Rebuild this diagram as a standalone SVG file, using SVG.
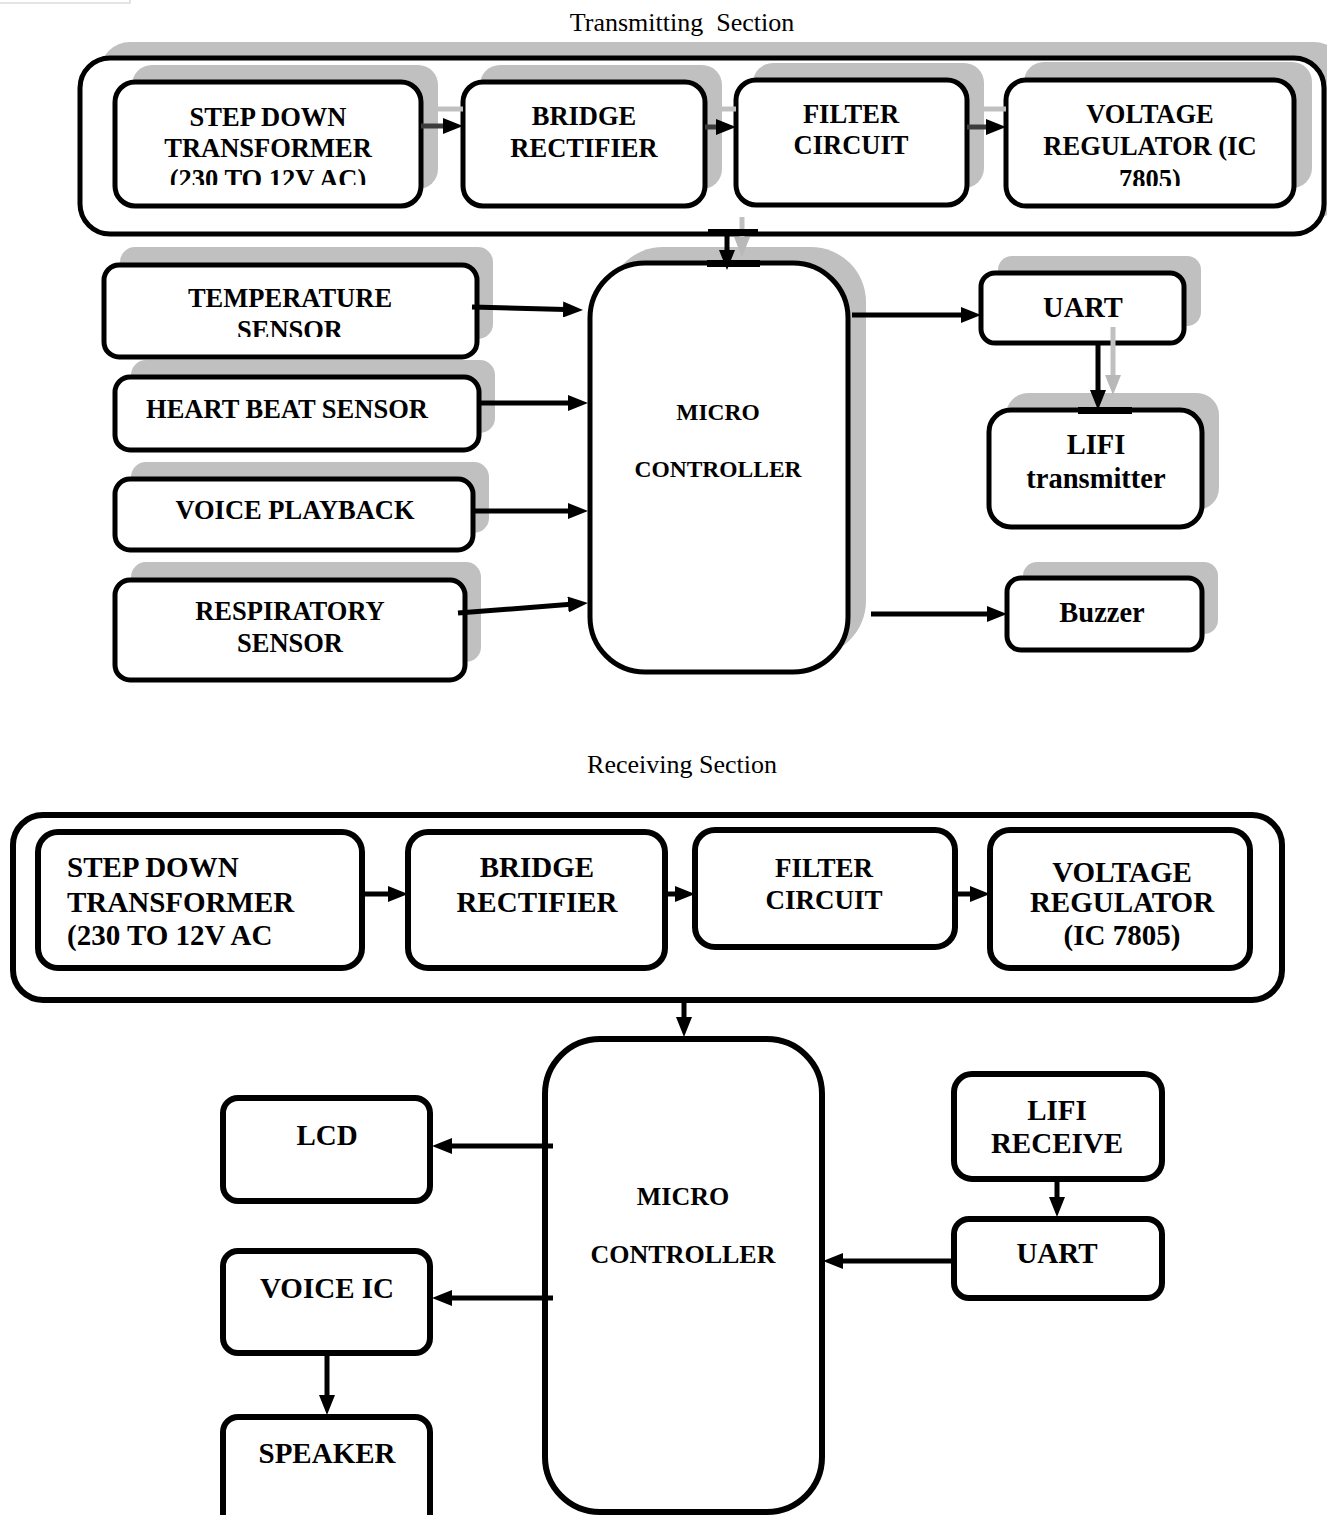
<svg xmlns="http://www.w3.org/2000/svg" width="1327" height="1515" viewBox="0 0 1327 1515">
<style>
.bx{fill:#fff;stroke:#000;stroke-width:5}
.bx2{fill:#fff;stroke:#000;stroke-width:6}
.sh{fill:#c0c0c0}
.t{font-family:"Liberation Serif","Times New Roman",serif;font-weight:bold;text-anchor:middle;fill:#000;font-size:26.5px}
.tb{font-family:"Liberation Serif","Times New Roman",serif;font-weight:bold;text-anchor:middle;fill:#000;font-size:29px}
.cap{font-family:"Liberation Serif","Times New Roman",serif;text-anchor:middle;fill:#000;font-size:26px;white-space:pre}
.ln{stroke:#000;stroke-width:5;fill:none}
.dk{stroke:#3c3c3c;stroke-width:5;fill:none}
.gl{stroke:#c0c0c0;stroke-width:5;fill:none}
</style>
<defs>
<marker id="ah" viewBox="0 0 20 16" markerWidth="20" markerHeight="16" refX="12" refY="8" orient="auto" markerUnits="userSpaceOnUse"><path d="M0,0 L20,8 L0,16 z" fill="#000"/></marker>
<marker id="ag" viewBox="0 0 20 16" markerWidth="20" markerHeight="16" refX="12" refY="8" orient="auto" markerUnits="userSpaceOnUse"><path d="M0,0 L20,8 L0,16 z" fill="#b8b8b8"/></marker>
<clipPath id="c1"><rect x="0" y="0" width="1327" height="185"/></clipPath>
<clipPath id="c2"><rect x="0" y="0" width="1327" height="186"/></clipPath>
<clipPath id="c3"><rect x="0" y="0" width="1327" height="337"/></clipPath>
</defs>
<rect width="1327" height="1515" fill="#fff"/>
<path d="M0,3 H130 V0" fill="none" stroke="#dcdcdc" stroke-width="1.5"/>

<text class="cap" x="682" y="31" xml:space="preserve">Transmitting  Section</text>

<g id="tx-power">
<rect class="sh" x="100" y="42" width="1244" height="176" rx="30"/>
<rect class="bx" x="80" y="58" width="1244" height="176" rx="30"/>
</g>
<g id="tx-stepdown">
<rect class="sh" x="132" y="65" width="306" height="124" rx="20"/>
<rect class="bx" x="115" y="82" width="306" height="124" rx="20"/>
<g clip-path="url(#c1)"><text class="t" x="268" y="126">STEP DOWN</text><text class="t" x="268" y="157">TRANSFORMER</text><text class="t" x="268" y="188">(230 TO 12V AC)</text></g>
</g>
<g id="tx-bridge">
<rect class="sh" x="480" y="65" width="242" height="124" rx="20"/>
<rect class="bx" x="463" y="82" width="242" height="124" rx="20"/>
<text class="t" x="584" y="125">BRIDGE</text><text class="t" x="584" y="157">RECTIFIER</text>
</g>
<g id="tx-filter">
<rect class="sh" x="753" y="63" width="231" height="125" rx="20"/>
<rect class="bx" x="736" y="80" width="231" height="125" rx="20"/>
<text class="t" x="851" y="123">FILTER</text><text class="t" x="851" y="154">CIRCUIT</text>
</g>
<g id="tx-regulator">
<rect class="sh" x="1024" y="62" width="288" height="126" rx="20"/>
<rect class="bx" x="1006" y="80" width="288" height="126" rx="20"/>
<g clip-path="url(#c2)"><text class="t" x="1150" y="123">VOLTAGE</text><text class="t" x="1150" y="155">REGULATOR (IC</text><text class="t" x="1150" y="188">7805)</text></g>
</g>
<g id="tx-temp">
<rect class="sh" x="120" y="247" width="373" height="92" rx="15"/>
<rect class="bx" x="104" y="265" width="373" height="92" rx="15"/>
<g clip-path="url(#c3)"><text class="t" x="290" y="307">TEMPERATURE</text><text class="t" x="290" y="339">SENSOR</text></g>
</g>
<g id="tx-heart">
<rect class="sh" x="131" y="360" width="364" height="73" rx="15"/>
<rect class="bx" x="115" y="377" width="364" height="73" rx="15"/>
<text class="t" x="287" y="418">HEART BEAT SENSOR</text>
</g>
<g id="tx-voice">
<rect class="sh" x="131" y="462" width="358" height="71" rx="15"/>
<rect class="bx" x="115" y="479" width="358" height="71" rx="15"/>
<text class="t" x="295" y="519">VOICE PLAYBACK</text>
</g>
<g id="tx-resp">
<rect class="sh" x="131" y="562" width="350" height="100" rx="15"/>
<rect class="bx" x="115" y="580" width="350" height="100" rx="15"/>
<text class="t" x="290" y="620">RESPIRATORY</text><text class="t" x="290" y="652">SENSOR</text>
</g>
<g id="tx-mcu">
<rect class="sh" x="608" y="247" width="258" height="409" rx="55"/>
<rect class="bx" x="590" y="263" width="258" height="409" rx="55"/>
<text class="t" x="718" y="420" style="font-size:23.5px">MICRO</text><text class="t" x="718" y="477" style="font-size:23.5px">CONTROLLER</text>
</g>
<g id="tx-uart">
<rect class="sh" x="998" y="256" width="203" height="70" rx="14"/>
<rect class="bx" x="981" y="273" width="203" height="70" rx="14"/>
<text class="t" x="1083" y="317" style="font-size:28.5px">UART</text>
</g>
<g id="tx-lifi">
<rect class="sh" x="1006" y="393" width="213" height="117" rx="22"/>
<rect class="bx" x="989" y="410" width="213" height="117" rx="22"/>
<text class="t" x="1096" y="454" style="font-size:28.5px">LIFI</text><text class="t" x="1096" y="488" style="font-size:28.5px">transmitter</text>
</g>
<g id="tx-buzzer">
<rect class="sh" x="1023" y="562" width="195" height="72" rx="14"/>
<rect class="bx" x="1007" y="578" width="195" height="72" rx="14"/>
<text class="t" x="1102" y="622" style="font-size:28.5px">Buzzer</text>
</g>

<text class="cap" x="682" y="773">Receiving Section</text>

<g id="rx-power">
<rect class="bx2" x="13" y="815" width="1269" height="185" rx="30"/>
</g>
<g id="rx-stepdown">
<rect class="bx2" x="38" y="832" width="324" height="136" rx="20"/>
<text class="tb" x="67" y="877" style="text-anchor:start">STEP DOWN</text><text class="tb" x="67" y="912" style="text-anchor:start">TRANSFORMER</text><text class="tb" x="67" y="945" style="text-anchor:start">(230 TO 12V AC</text>
</g>
<g id="rx-bridge">
<rect class="bx2" x="408" y="832" width="257" height="136" rx="20"/>
<text class="tb" x="537" y="877">BRIDGE</text><text class="tb" x="537" y="912">RECTIFIER</text>
</g>
<g id="rx-filter">
<rect class="bx2" x="695" y="830" width="260" height="117" rx="20"/>
<text class="tb" x="824" y="877" style="font-size:27px">FILTER</text><text class="tb" x="824" y="909" style="font-size:27px">CIRCUIT</text>
</g>
<g id="rx-regulator">
<rect class="bx2" x="990" y="830" width="260" height="138" rx="20"/>
<text class="tb" x="1122" y="882">VOLTAGE</text><text class="tb" x="1122" y="912">REGULATOR</text><text class="tb" x="1122" y="945">(IC 7805)</text>
</g>
<g id="rx-mcu">
<rect class="bx2" x="545" y="1039" width="277" height="473" rx="55"/>
<text class="tb" x="683" y="1205" style="font-size:26px">MICRO</text><text class="tb" x="683" y="1263" style="font-size:26px">CONTROLLER</text>
</g>
<g id="rx-lcd">
<rect class="bx2" x="223" y="1098" width="207" height="103" rx="15"/>
<text class="tb" x="327" y="1145">LCD</text>
</g>
<g id="rx-voiceic">
<rect class="bx2" x="223" y="1251" width="207" height="102" rx="15"/>
<text class="tb" x="327" y="1298">VOICE IC</text>
</g>
<g id="rx-speaker">
<rect class="bx2" x="223" y="1417" width="207" height="125" rx="15"/>
<text class="tb" x="327" y="1463">SPEAKER</text>
</g>
<g id="rx-lifi">
<rect class="bx2" x="954" y="1074" width="208" height="105" rx="18"/>
<text class="tb" x="1057" y="1120">LIFI</text><text class="tb" x="1057" y="1153">RECEIVE</text>
</g>
<g id="rx-uart">
<rect class="bx2" x="954" y="1219" width="208" height="79" rx="15"/>
<text class="tb" x="1057" y="1263">UART</text>
</g>

<g id="connectors">
<line class="gl" x1="437" y1="109" x2="463" y2="109"/>
<line class="gl" x1="720" y1="109" x2="736" y2="109"/>
<line class="gl" x1="984" y1="109" x2="1006" y2="109"/>
<line class="dk" x1="421" y1="126" x2="455" y2="126" marker-end="url(#ah)"/>
<line class="dk" x1="705" y1="127" x2="728" y2="127" marker-end="url(#ah)"/>
<line class="dk" x1="967" y1="127" x2="998" y2="127" marker-end="url(#ah)"/>
<line class="gl" x1="742" y1="217" x2="742" y2="249" stroke="#b8b8b8" marker-end="url(#ag)"/>
<rect x="708" y="229" width="50" height="7" fill="#000"/>
<rect x="707" y="260" width="53" height="7" fill="#000"/>
<line class="ln" x1="727" y1="232" x2="727" y2="262" marker-end="url(#ah)"/>
<line class="ln" x1="472" y1="307" x2="575" y2="309.8" marker-end="url(#ah)"/>
<line class="ln" x1="479" y1="403" x2="580" y2="403" marker-end="url(#ah)"/>
<line class="ln" x1="473" y1="511" x2="580" y2="511" marker-end="url(#ah)"/>
<line class="ln" x1="458" y1="613" x2="580" y2="603.6" marker-end="url(#ah)"/>
<line class="ln" x1="852" y1="315" x2="973" y2="315" marker-end="url(#ah)"/>
<line class="gl" x1="1113" y1="327" x2="1113" y2="387" stroke="#b8b8b8" marker-end="url(#ag)"/>
<rect x="1078" y="407" width="54" height="7" fill="#000"/>
<line class="ln" x1="1098" y1="343" x2="1098" y2="402" marker-end="url(#ah)"/>
<line class="ln" x1="871" y1="614" x2="999" y2="614" marker-end="url(#ah)"/>

<line class="ln" x1="362" y1="894" x2="400" y2="894" stroke-width="6" marker-end="url(#ah)"/>
<line class="ln" x1="665" y1="894" x2="687" y2="894" stroke-width="6" marker-end="url(#ah)"/>
<line class="ln" x1="955" y1="894" x2="982" y2="894" stroke-width="6" marker-end="url(#ah)"/>
<line class="ln" x1="684" y1="1000" x2="684" y2="1029" stroke-width="6" marker-end="url(#ah)"/>
<line class="ln" x1="553" y1="1146" x2="440" y2="1146" stroke-width="6" marker-end="url(#ah)"/>
<line class="ln" x1="553" y1="1298" x2="440" y2="1298" stroke-width="6" marker-end="url(#ah)"/>
<line class="ln" x1="327" y1="1353" x2="327" y2="1407" stroke-width="6" marker-end="url(#ah)"/>
<line class="ln" x1="1057" y1="1179" x2="1057" y2="1209" stroke-width="6" marker-end="url(#ah)"/>
<line class="ln" x1="954" y1="1261" x2="831" y2="1261" stroke-width="6" marker-end="url(#ah)"/>
</g>
</svg>
